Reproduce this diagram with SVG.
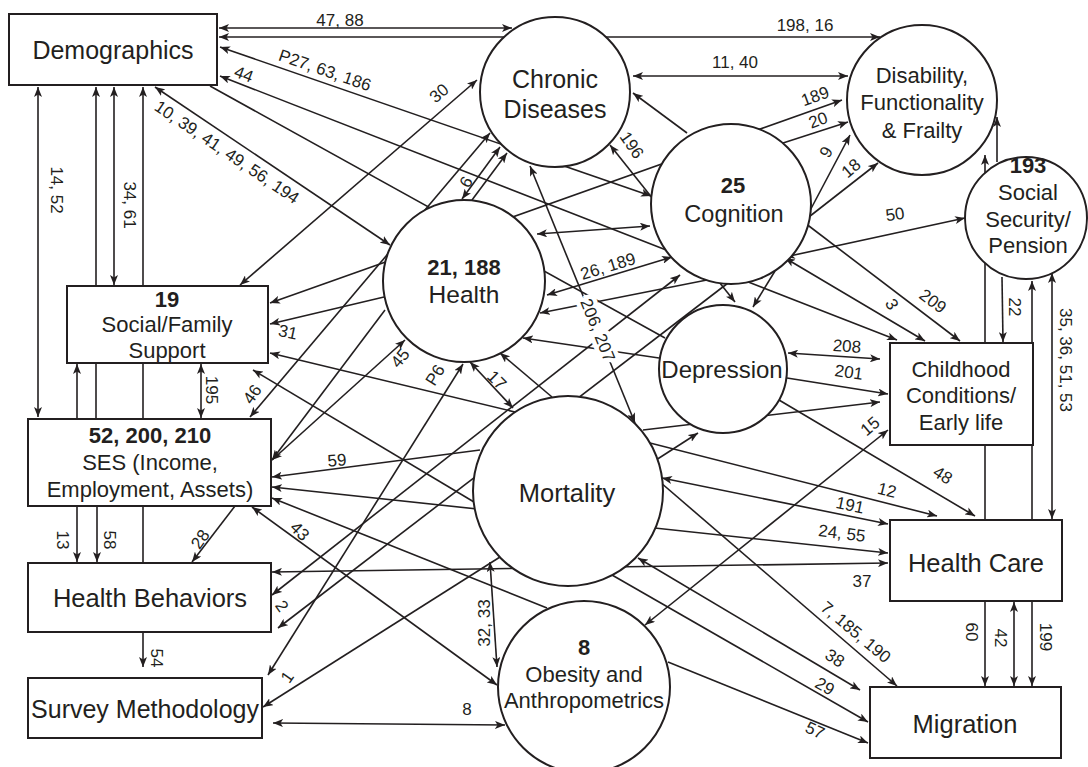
<svg xmlns="http://www.w3.org/2000/svg" width="1088" height="767" viewBox="0 0 1088 767">
<defs>
<marker id="a" viewBox="0 0 10 8" refX="10" refY="4" markerWidth="10" markerHeight="8" markerUnits="userSpaceOnUse" orient="auto-start-reverse"><path d="M0,0 L10,4 L0,8 L2.5,4 z" fill="#231f20"/></marker>
</defs>
<style>
line{stroke:#231f20;stroke-width:1.6;fill:none}
.e{marker-end:url(#a)}
.b{marker-start:url(#a);marker-end:url(#a)}
.nd rect,.nd circle{fill:#fff;stroke:#231f20;stroke-width:2}
text{font-family:"Liberation Sans",Arial,sans-serif;fill:#231f20}
.t{font-size:22px;text-anchor:middle}
.T{font-size:25px;text-anchor:middle}
.tb{font-size:22px;text-anchor:middle;font-weight:bold}
.l{font-size:17px;text-anchor:middle}
.h{stroke:#fff;stroke-width:9;paint-order:stroke}
</style>
<g id="connectors">
<line class="b" x1="219" y1="28" x2="512" y2="28"/>
<line class="b" x1="219" y1="37" x2="880" y2="37"/>
<line class="b" x1="633" y1="76" x2="848" y2="76"/>
<line class="b" x1="220" y1="47" x2="651" y2="196"/>
<line class="b" x1="220" y1="76" x2="897" y2="340"/>
<line class="b" x1="155" y1="87" x2="390" y2="245"/>
<line x1="210" y1="86" x2="665" y2="338"/>
<line class="b" x1="38" y1="87" x2="38" y2="417"/>
<line class="e" x1="96" y1="419" x2="96" y2="87"/>
<line class="b" x1="114" y1="87" x2="114" y2="285"/>
<line class="e" x1="143" y1="563" x2="143" y2="87"/>
<line class="e" x1="77" y1="419" x2="77" y2="364"/>
<line class="e" x1="77" y1="506" x2="77" y2="562"/>
<line class="e" x1="97" y1="506" x2="97" y2="562"/>
<line class="b" x1="201" y1="364" x2="201" y2="418"/>
<line class="e" x1="143" y1="632" x2="143" y2="667"/>
<line class="e" x1="235" y1="506" x2="192" y2="562"/>
<line class="b" x1="477" y1="80" x2="240" y2="285"/>
<line class="b" x1="250" y1="417" x2="490" y2="133"/>
<line class="b" x1="462" y1="199" x2="500" y2="147"/>
<line class="e" x1="472" y1="200" x2="507" y2="153"/>
<line class="b" x1="610" y1="145" x2="735" y2="302"/>
<line class="e" x1="687" y1="133" x2="633" y2="93"/>
<line class="b" x1="530" y1="166" x2="635" y2="423"/>
<line class="b" x1="842" y1="100" x2="270" y2="303"/>
<line class="e" x1="783" y1="143" x2="848" y2="122"/>
<line class="e" x1="805" y1="220" x2="850" y2="135"/>
<line class="e" x1="805" y1="220" x2="878" y2="163"/>
<line class="b" x1="785" y1="257" x2="965" y2="218"/>
<line class="b" x1="785" y1="258" x2="925" y2="341"/>
<line class="e" x1="805" y1="223" x2="960" y2="341"/>
<line class="e" x1="775" y1="271" x2="753" y2="307"/>
<line class="e" x1="712" y1="279" x2="540" y2="313"/>
<line class="e" x1="985" y1="520" x2="985" y2="155"/>
<line class="e" x1="997" y1="162" x2="997" y2="117"/>
<line class="e" x1="1002" y1="277" x2="1003" y2="342"/>
<line class="e" x1="1032" y1="520" x2="1032" y2="281"/>
<line class="b" x1="1052" y1="273" x2="1052" y2="519"/>
<line class="b" x1="788" y1="353" x2="880" y2="359"/>
<line class="e" x1="787" y1="378" x2="888" y2="394"/>
<line class="e" x1="643" y1="430" x2="880" y2="402"/>
<line class="e" x1="656" y1="460" x2="698" y2="433"/>
<line class="b" x1="645" y1="625" x2="888" y2="430"/>
<line class="e" x1="779" y1="400" x2="975" y2="516"/>
<line class="e" x1="650" y1="443" x2="937" y2="516"/>
<line class="b" x1="662" y1="478" x2="888" y2="524"/>
<line class="b" x1="272" y1="487" x2="888" y2="553"/>
<line class="b" x1="272" y1="572" x2="888" y2="563"/>
<line class="e" x1="660" y1="482" x2="897" y2="686"/>
<line class="b" x1="638" y1="558" x2="860" y2="690"/>
<line class="e" x1="612" y1="575" x2="868" y2="722"/>
<line class="e" x1="668" y1="662" x2="868" y2="743"/>
<line class="e" x1="985" y1="601" x2="985" y2="686"/>
<line class="b" x1="1014" y1="602" x2="1014" y2="686"/>
<line class="e" x1="1032" y1="601" x2="1032" y2="686"/>
<line class="e" x1="480" y1="450" x2="272" y2="477"/>
<line class="e" x1="547" y1="608" x2="272" y2="498"/>
<line class="b" x1="252" y1="507" x2="497" y2="685"/>
<line class="e" x1="474" y1="502" x2="253" y2="370"/>
<line class="e" x1="515" y1="412" x2="270" y2="353"/>
<line class="b" x1="272" y1="460" x2="405" y2="340"/>
<line class="e" x1="385" y1="310" x2="272" y2="460"/>
<line class="e" x1="384" y1="297" x2="270" y2="324"/>
<line class="b" x1="463" y1="364" x2="268" y2="675"/>
<line class="e" x1="500" y1="557" x2="263" y2="707"/>
<line class="b" x1="272" y1="595" x2="680" y2="275"/>
<line class="e" x1="728" y1="283" x2="278" y2="628"/>
<line class="b" x1="470" y1="362" x2="513" y2="408"/>
<line class="e" x1="552" y1="397" x2="500" y2="353"/>
<line class="e" x1="659" y1="358" x2="523" y2="338"/>
<line class="b" x1="547" y1="295" x2="672" y2="257"/>
<line class="b" x1="537" y1="234" x2="650" y2="226"/>
<line class="b" x1="490" y1="562" x2="497" y2="667"/>
<line class="b" x1="273" y1="723" x2="505" y2="725"/>
</g>
<g id="labels">
<text class="l" x="340" y="26">47, 88</text>
<text class="l" x="805" y="31">198, 16</text>
<text class="l" x="735" y="68">11, 40</text>
<text class="l" transform="translate(325,70) rotate(19)" dy="0.35em">P27, 63, 186</text>
<text class="l" transform="translate(244,74) rotate(21)" dy="0.35em">44</text>
<text class="l" transform="translate(227,152) rotate(34)" dy="0.35em">10, 39, 41, 49, 56, 194</text>
<text class="l" transform="translate(57,190) rotate(90)" dy="0.35em">14, 52</text>
<text class="l" transform="translate(130,205) rotate(90)" dy="0.35em">34, 61</text>
<text class="l" transform="translate(439,93) rotate(-40)" dy="0.35em">30</text>
<text class="l" transform="translate(466,182) rotate(-60)" dy="0.35em">6</text>
<text class="l" transform="translate(632,145) rotate(55)" dy="0.35em">196</text>
<text class="l h" transform="translate(598,330) rotate(68)" dy="0.35em">206, 207</text>
<text class="l" transform="translate(608,266) rotate(-17)" dy="0.35em">26, 189</text>
<text class="l" transform="translate(815,96) rotate(-20)" dy="0.35em">189</text>
<text class="l" transform="translate(818,120) rotate(-20)" dy="0.35em">20</text>
<text class="l" transform="translate(826,152) rotate(-60)" dy="0.35em">9</text>
<text class="l" transform="translate(851,168) rotate(-40)" dy="0.35em">18</text>
<text class="l" transform="translate(895,214) rotate(-8)" dy="0.35em">50</text>
<text class="l" transform="translate(892,304) rotate(60)" dy="0.35em">3</text>
<text class="l" transform="translate(933,301) rotate(37)" dy="0.35em">209</text>
<text class="l" transform="translate(1015,307) rotate(90)" dy="0.35em">22</text>
<text class="l" transform="translate(1066,360) rotate(90)" dy="0.35em">35, 36, 51, 53</text>
<text class="l" transform="translate(847,346) rotate(4)" dy="0.35em">208</text>
<text class="l" transform="translate(849,372) rotate(8)" dy="0.35em">201</text>
<text class="l" transform="translate(870,426) rotate(-40)" dy="0.35em">15</text>
<text class="l" transform="translate(943,475) rotate(32)" dy="0.35em">48</text>
<text class="l" transform="translate(887,490) rotate(14)" dy="0.35em">12</text>
<text class="l" transform="translate(850,505) rotate(12)" dy="0.35em">191</text>
<text class="l" transform="translate(842,533) rotate(7)" dy="0.35em">24, 55</text>
<text class="l" transform="translate(862,581)" dy="0.35em">37</text>
<text class="l" transform="translate(856,632) rotate(40)" dy="0.35em">7, 185, 190</text>
<text class="l" transform="translate(835,658) rotate(33)" dy="0.35em">38</text>
<text class="l" transform="translate(825,686) rotate(30)" dy="0.35em">29</text>
<text class="l" transform="translate(815,730) rotate(25)" dy="0.35em">57</text>
<text class="l" transform="translate(972,632) rotate(90)" dy="0.35em">60</text>
<text class="l" transform="translate(1001,638) rotate(90)" dy="0.35em">42</text>
<text class="l" transform="translate(1046,637) rotate(90)" dy="0.35em">199</text>
<text class="l" transform="translate(288,332) rotate(12)" dy="0.35em">31</text>
<text class="l" transform="translate(252,394) rotate(-55)" dy="0.35em">46</text>
<text class="l" transform="translate(212,390) rotate(90)" dy="0.35em">195</text>
<text class="l" transform="translate(400,358) rotate(-50)" dy="0.35em">45</text>
<text class="l" transform="translate(435,375) rotate(-58)" dy="0.35em">P6</text>
<text class="l" transform="translate(497,380) rotate(45)" dy="0.35em">17</text>
<text class="l" transform="translate(337,460) rotate(-5)" dy="0.35em">59</text>
<text class="l" transform="translate(63,540) rotate(90)" dy="0.35em">13</text>
<text class="l" transform="translate(110,540) rotate(90)" dy="0.35em">58</text>
<text class="l" transform="translate(200,539) rotate(-55)" dy="0.35em">28</text>
<text class="l" transform="translate(300,531) rotate(45)" dy="0.35em">43</text>
<text class="l" transform="translate(282,606) rotate(55)" dy="0.35em">2</text>
<text class="l" transform="translate(157,658) rotate(90)" dy="0.35em">54</text>
<text class="l" transform="translate(287,677) rotate(-55)" dy="0.35em">1</text>
<text class="l" transform="translate(484,623) rotate(-90)" dy="0.35em">32, 33</text>
<text class="l" x="467" y="715">8</text>
</g>
<g id="n-demographics" class="nd"><rect x="9" y="14" width="208" height="71"/><text class="T" x="113" y="59">Demographics</text></g>
<g id="n-social" class="nd"><rect x="67" y="286" width="201" height="77"/><text class="tb" x="167" y="307">19</text><text class="t" x="167" y="332">Social/Family</text><text class="t" x="167" y="358">Support</text></g>
<g id="n-ses" class="nd"><rect x="28" y="419" width="243" height="87"/><text class="tb" x="150" y="443">52, 200, 210</text><text class="t" x="150" y="470">SES (Income,</text><text class="t" x="150" y="497">Employment, Assets)</text></g>
<g id="n-behaviors" class="nd"><rect x="28" y="563" width="243" height="69"/><text class="T" x="150" y="607" style="font-size:25.5px">Health Behaviors</text></g>
<g id="n-survey" class="nd"><rect x="28" y="678" width="234" height="60"/><text class="T" x="145" y="718">Survey Methodology</text></g>
<g id="n-childhood" class="nd"><rect x="890" y="343" width="143" height="102"/><text class="t" x="961" y="377">Childhood</text><text class="t" x="961" y="403">Conditions/</text><text class="t" x="961" y="430">Early life</text></g>
<g id="n-healthcare" class="nd"><rect x="890" y="520" width="172" height="81"/><text class="T" x="976" y="572" style="font-size:25.5px">Health Care</text></g>
<g id="n-migration" class="nd"><rect x="870" y="687" width="191" height="71"/><text class="T" x="965" y="733" style="font-size:25.5px">Migration</text></g>
<g id="n-chronic" class="nd"><circle cx="555" cy="92" r="75"/><text class="T" x="555" y="88">Chronic</text><text class="T" x="555" y="118">Diseases</text></g>
<g id="n-disability" class="nd"><circle cx="922" cy="100" r="75"/><text class="t" x="922" y="83">Disability,</text><text class="t" x="922" y="110">Functionality</text><text class="t" x="922" y="138">&amp; Frailty</text></g>
<g id="n-socsec" class="nd"><circle cx="1026" cy="218" r="61"/><text class="tb" x="1028" y="173">193</text><text class="t" x="1028" y="200">Social</text><text class="t" x="1028" y="227">Security/</text><text class="t" x="1028" y="253">Pension</text></g>
<g id="n-cognition" class="nd"><circle cx="731" cy="204" r="80"/><text class="tb" x="733" y="193">25</text><text class="T" x="734" y="222" style="font-size:23.5px">Cognition</text></g>
<g id="n-health" class="nd"><circle cx="464" cy="281" r="81"/><text class="tb" x="464" y="275">21, 188</text><text class="T" x="464" y="303" style="font-size:24.5px">Health</text></g>
<g id="n-depression" class="nd"><circle cx="723" cy="369" r="64"/><text class="T" x="722" y="378" style="font-size:24px">Depression</text></g>
<g id="n-mortality" class="nd"><circle cx="568" cy="491" r="95"/><text class="T" x="567" y="502" style="font-size:25.5px">Mortality</text></g>
<g id="n-obesity" class="nd"><circle cx="584" cy="687" r="86"/><text class="tb" x="584" y="655">8</text><text class="t" x="584" y="682">Obesity and</text><text class="t" x="584" y="708">Anthropometrics</text></g>
</svg>
